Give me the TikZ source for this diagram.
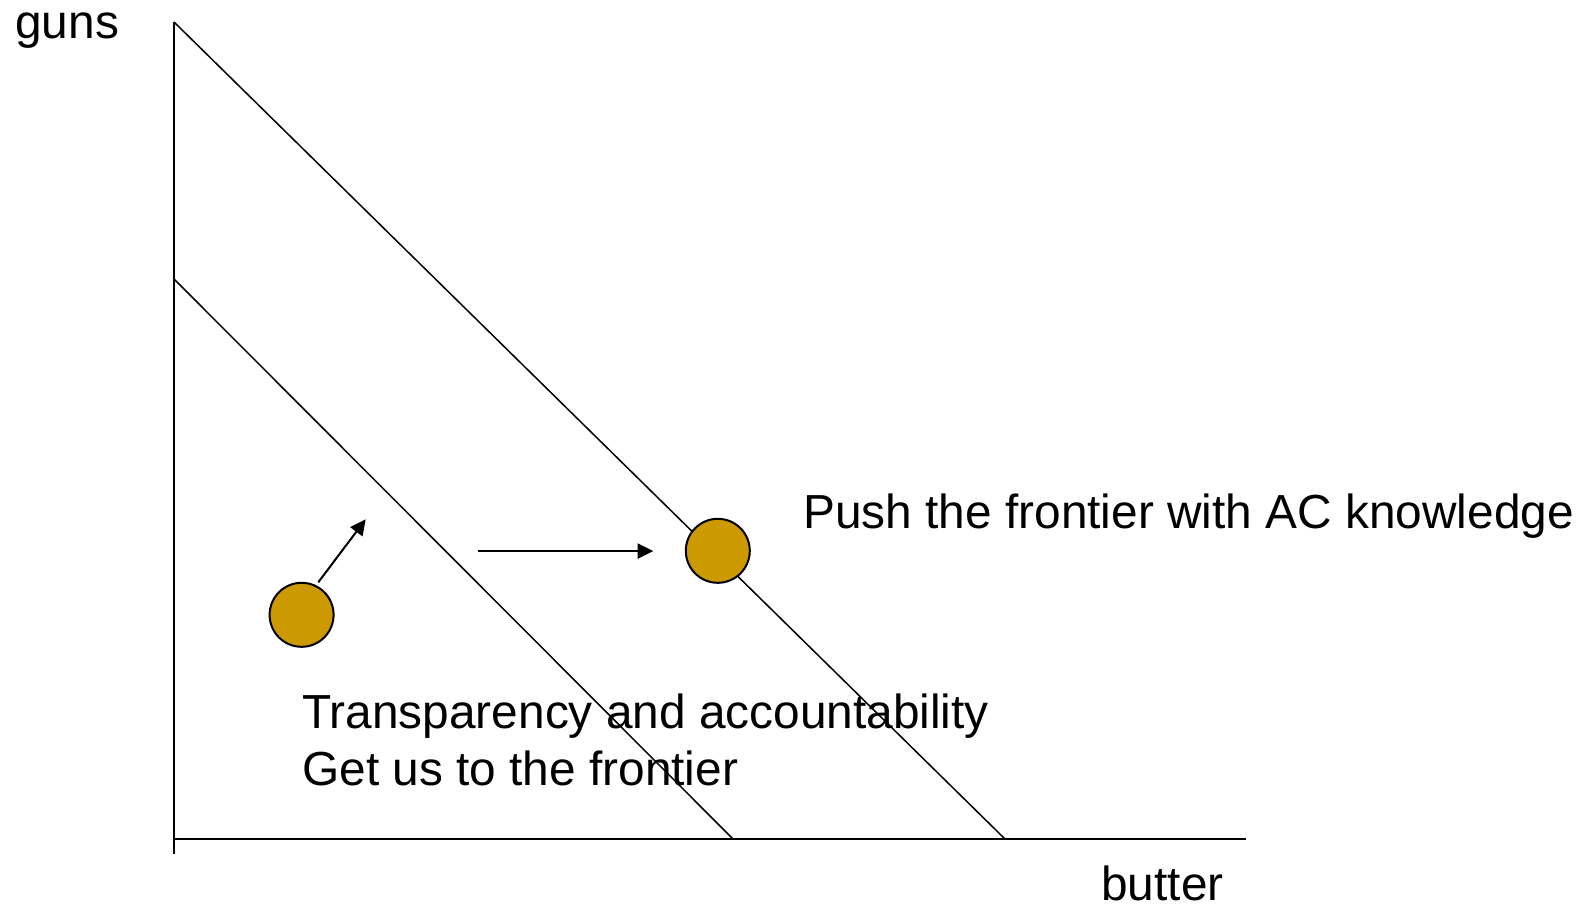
\documentclass[tikz,border=0pt]{standalone}
\usepackage{fontspec}
\setmainfont{Liberation Sans}
\usetikzlibrary{arrows.meta}
\definecolor{gold}{HTML}{CC9900}
\tikzset{
  axisline/.style={line width=1pt},
  frontline/.style={line width=0.75pt},
  movearrow/.style={line width=1pt,-{Triangle[length=7.8pt,width=7.5pt]}},
  dot/.style={circle,draw,line width=1pt,fill=gold,minimum size=32pt,inner sep=0pt},
  lbl/.style={inner sep=0pt,font=\fontsize{23.9pt}{28.75pt}\selectfont}
}
\begin{document}
\begin{tikzpicture}[x=0.5pt,y=-0.5pt]
\useasboundingbox (0,0) rectangle (1581,907);
% axes
\coordinate (ytop) at (174,22);
\coordinate (ybot) at (174,854);
\coordinate (xl) at (174,839);
\coordinate (xr) at (1246,839);
\draw[axisline] (ytop) -- (ybot);
\draw[axisline] (xl) -- (xr);
% frontiers
\coordinate (o1) at (174,22);
\coordinate (o2) at (1005,839);
\coordinate (i1) at (174,279);
\coordinate (i2) at (733,839);
\draw[frontline] (o1) -- (o2);
\draw[frontline] (i1) -- (i2);
% dots
\node[dot] (d1) at (301.6,614.8) {};
\node[dot] (d2) at (717.8,550.8) {};
% arrows
\coordinate (a1s) at (318.3,582.3);
\coordinate (a1e) at (365.7,519.3);
\coordinate (a2s) at (478.3,551);
\coordinate (a2e) at (653.3,551);
\draw[movearrow] (a1s) -- (a1e);
\draw[movearrow] (a2s) -- (a2e);
% labels
\node[lbl,anchor=base west] (guns) at (15,38.5) {guns};
\node[lbl,anchor=base east] (butter) at (1224,900) {butter};
\node[lbl,anchor=base west] (push) at (803,528.5) {Push the frontier with AC knowledge};
\node[lbl,anchor=base west] (tr1) at (302,728) {Transparency and accountability};
\node[lbl,anchor=base west] (tr2) at (302,785.5) {Get us to the frontier};
\end{tikzpicture}
\end{document}
